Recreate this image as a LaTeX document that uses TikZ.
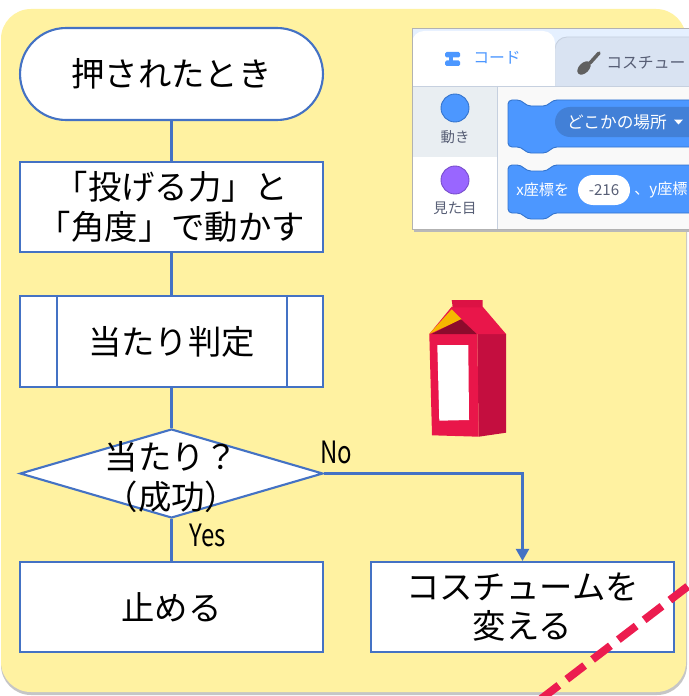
\documentclass[tikz,border=0pt]{standalone}
\usepackage{fontspec}
\setmainfont{Noto Sans CJK JP}
\newfontfamily\narrowfont[FakeStretch=0.78]{Noto Sans CJK JP}
\usetikzlibrary{shapes.geometric,arrows.meta}

\definecolor{bgyellow}{HTML}{FFF2A1}
\definecolor{fcblue}{HTML}{4472C4}
\definecolor{dashred}{HTML}{EC1C4F}
\definecolor{scblue}{HTML}{4C97FF}
\definecolor{scblueline}{HTML}{3373CC}
\definecolor{scdd}{HTML}{4280D7}
\definecolor{scpurple}{HTML}{9966FF}
\definecolor{scpurpleline}{HTML}{774DCB}
\definecolor{sctext}{HTML}{575E75}
\definecolor{tabbar}{HTML}{E5F0FF}
\definecolor{tabtwo}{HTML}{D9E3F2}
\definecolor{tabline}{HTML}{C6D0DF}
\definecolor{catsel}{HTML}{E9EEF2}
\definecolor{blockbg}{HTML}{F9F9F9}
\definecolor{cartonfront}{HTML}{E9164A}
\definecolor{cartonside}{HTML}{C40E3F}
\definecolor{cartontop}{HTML}{DC1244}
\definecolor{cartondark}{HTML}{8C0B2C}
\definecolor{cartonyellow}{HTML}{F6B800}

\newcommand\jpbig{\fontsize{19}{22.7}\selectfont}

\tikzset{
  flowbox/.style={draw=fcblue, line width=1.2pt, fill=white,
    minimum width=6.06cm, minimum height=1.8cm, inner sep=0pt,
    font=\jpbig, align=center},
  terminal/.style={flowbox, minimum height=1.84cm, rounded corners=0.92cm},
  decision/.style={draw=fcblue, line width=1.2pt, fill=white, diamond,
    minimum width=6.06cm, minimum height=1.78cm, inner sep=0pt},
  flow/.style={draw=fcblue, line width=1.2pt},
  branchlabel/.style={font=\narrowfont\fontsize{17.5}{20}\selectfont, inner sep=0pt},
  sclabel/.style={font=\fontsize{8.2}{9}\selectfont, text=sctext, inner sep=0pt},
  blocktext/.style={font=\fontsize{8.6}{9.5}\selectfont, text=white, inner sep=0pt},
}

\begin{document}
\begin{tikzpicture}[x=0.02cm, y=-0.02cm]
\useasboundingbox (0,0) rectangle (689,696);
\fill[white] (0,0) rectangle (689,696);

% yellow backdrop with a soft shadow
\fill[gray!45, rounded corners=0.6cm] (1,12) rectangle (687,695);
\fill[bgyellow, rounded corners=0.6cm] (1,9) rectangle (686,692);

% ---------------- flowchart ----------------
\node[terminal] (start) at (171.5,74) {押されたとき};
\node[flowbox] (move) at (171.5,207) {「投げる力」と\\「角度」で動かす};
\node[flowbox, minimum height=1.82cm] (hit) at (171.5,341.5) {当たり判定};
\draw[flow] ([xshift=0.76cm]hit.north west) -- ([xshift=0.76cm]hit.south west);
\draw[flow] ([xshift=-0.74cm]hit.north east) -- ([xshift=-0.74cm]hit.south east);
\node[decision] (dec) at (171.5,473.5) {};
\node[font=\jpbig, align=center, inner sep=0pt] (dectext) at (171.5,477) {当たり？\\（成功）};
\node[flowbox] (stop) at (171.5,607) {止める};
\node[flowbox] (chg) at (522.5,607) {コスチュームを\\変える};

\draw[flow] (start) -- (move);
\draw[flow] (move) -- (hit);
\draw[flow] (hit) -- (dec);
\draw[flow] (dec) -- (stop);
\draw[flow, -{Triangle[width=0.26cm,length=0.24cm]}] (dec.east) -| (chg.north);

\node[branchlabel] (nolbl) at (336,452) {No};
\node[branchlabel] (yeslbl) at (208,535) {Yes};

% ---------------- code panel ----------------
\fill[gray!55] (414,31) rectangle (689,232);
\begin{scope}
\clip (412,28) rectangle (689,229);
\fill[tabbar] (412,28) rectangle (689,86);
% costume tab
\draw[fill=tabtwo, draw=tabline, line width=0.5pt, rounded corners=0.24cm]
  (555,100) -- (555,37) -- (720,37) -- (720,100);
% code tab (active)
\fill[white, rounded corners=0.24cm] (412,100) -- (412,31) -- (555,31) -- (555,100);
% content area
\fill[catsel] (412,86) rectangle (497,157);
\fill[white] (412,157) rectangle (497,229);
\fill[blockbg] (497,86) rectangle (689,229);
\draw[tabline, line width=0.5pt] (412,86) -- (689,86);
\draw[tabline, line width=0.5pt] (497,86) -- (497,229);

% code tab icon and label
\fill[scblue, rounded corners=0.03cm] (445,52) rectangle (460,57.5);
\fill[scblue, rounded corners=0.03cm] (445,60.5) rectangle (460,66);
\fill[scblue] (449,57) rectangle (453,61);
\node[font=\fontsize{9}{10}\selectfont, text=scblue, anchor=west, inner sep=0pt] (codetab) at (473,58) {コード};
% costume tab icon and label
\draw[gray!75!black, line width=2pt, line cap=round] (599,53) -- (590,63);
\fill[gray!75!black, rotate around={-45:(584,68)}] (584,68) ellipse (0.1cm and 0.16cm);
\node[font=\fontsize{9}{10}\selectfont, text=sctext, anchor=west, inner sep=0pt] (costab) at (606,63) {コスチュー};

% categories
\draw[fill=scblue, draw=scblueline, line width=0.5pt] (455,108) circle (0.28cm);
\node[sclabel] (motion) at (455,137) {動き};
\draw[fill=scpurple, draw=scpurpleline, line width=0.5pt] (455,180) circle (0.28cm);
\node[sclabel] (looks) at (455,208) {見た目};

% block: go to somewhere
\draw[fill=scblue, draw=scblueline, line width=0.5pt, rounded corners=0.08cm]
  (508,100) -- (521,100) -- (527,106) -- (547,106) -- (553,100) -- (720,100)
  -- (720,147) -- (553,147) -- (547,153) -- (527,153) -- (521,147) -- (508,147) -- cycle;
\fill[scdd, rounded corners=0.3cm] (555,107) rectangle (720,137);
\node[blocktext, font=\fontsize{9.5}{10}\selectfont] (ddtext) at (617,122) {どこかの場所};
\fill[white] (674,119.5) -- (683,119.5) -- (678.5,124.5) -- cycle;

% block: set x and y
\draw[fill=scblue, draw=scblueline, line width=0.5pt, rounded corners=0.08cm]
  (508,165) -- (521,165) -- (527,171) -- (547,171) -- (553,165) -- (720,165)
  -- (720,213) -- (553,213) -- (547,219) -- (527,219) -- (521,213) -- (508,213) -- cycle;
\node[blocktext, anchor=west] (xlbl) at (516,190) {x座標を};
\fill[white, rounded corners=0.3cm] (578,175) rectangle (630,205);
\node[sclabel, font=\fontsize{8.6}{9.5}\selectfont] (xval) at (604,190) {-216};
\node[blocktext, anchor=west] (ylbl) at (634,190) {、y座標};
\end{scope}
\draw[gray!60, line width=0.5pt] (412,28) -- (689,28);
\draw[gray!60, line width=0.5pt] (412,28) -- (412,229) -- (689,229);

% ---------------- milk carton sprite ----------------
\fill[cartonside] (477.3,334) -- (506,334) -- (506,432.7) -- (478.7,436.7) -- cycle;
\fill[cartonfront] (429.3,334) -- (477.3,334) -- (478.7,436.7) -- (432,435.3) -- cycle;
\fill[cartonfront] (451.7,306.7) -- (482.7,306.7) -- (506,334) -- (429.3,334) -- cycle;
\fill[cartontop] (451.7,300) -- (482.7,300) -- (482.7,307.3) -- (452.7,307.3) -- cycle;
\fill[cartonyellow] (429.3,334) -- (451.7,309.3) -- (461.7,319.3) -- cycle;
\fill[cartondark] (431.7,334) -- (461,319.3) -- (476.7,334) -- cycle;
\fill[white] (437.3,345) -- (468.3,345) -- (469,420) -- (439.3,420.7) -- cycle;

% ---------------- crossing-out stroke ----------------
\begin{scope}
\clip (0,0) rectangle (689,696);
\draw[dashred, line width=4.5pt, dash pattern=on 0.45cm off 0.2cm] (541,699) -- (700,577);
\end{scope}
\end{tikzpicture}
\end{document}
